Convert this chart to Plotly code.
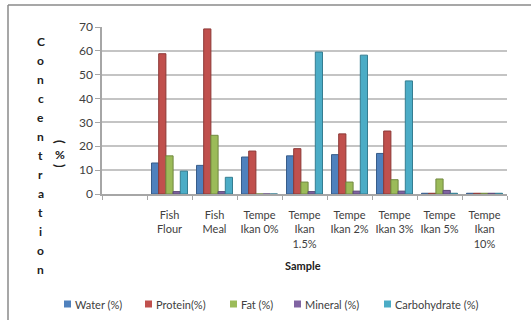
import plotly.graph_objects as go

# Sample categories (the first slot on the axis is left empty)
samples = ["", "Fish<br>Flour", "Fish<br>Meal", "Tempe<br>Ikan 0%", "Tempe<br>Ikan<br>1.5%",
           "Tempe<br>Ikan 2%", "Tempe<br>Ikan 3%", "Tempe<br>Ikan 5%", "Tempe<br>Ikan<br>10%"]

water = [None, 13.0, 12.0, 15.5, 16.0, 16.5, 17.0, 0.3, 0.3]
protein = [None, 58.8, 69.2, 18.0, 19.0, 25.2, 26.4, 0.3, 0.3]
fat = [None, 16.0, 24.6, 0.0, 5.0, 5.0, 6.0, 6.3, 0.3]
mineral = [None, 1.0, 1.0, 0.0, 1.0, 1.2, 1.2, 1.5, 0.3]
carbohydrate = [None, 9.6, 7.0, 0.0, 59.5, 58.2, 47.4, 0.3, 0.3]

y_ticks = [0, 10, 20, 30, 40, 50, 60, 70]

series = [
    ("Water (%)", water, "#4F81BD", "#385D8A"),
    ("Protein(%)", protein, "#C0504D", "#8C3836"),
    ("Fat (%)", fat, "#9BBB59", "#71893F"),
    ("Mineral (%)", mineral, "#8064A2", "#5C4776"),
    ("Carbohydrate (%)", carbohydrate, "#4BACC6", "#357D91"),
]
# horizontal start of each legend entry (px)
legend_x = [64, 145, 230, 294, 384]

W, H = 531, 320
L, R, T, B = 102, 24, 27, 126
PW, PH = W - L - R, H - T - B


def px_x(x):
    return (x - L) / PW


def px_y(y):
    return (H - B - y) / PH


xs = list(range(len(samples)))
fig = go.Figure()
for name, vals, col, edge in series:
    fig.add_trace(go.Bar(
        x=xs, y=vals, name=name,
        marker=dict(color=col, line=dict(color=edge, width=1)),
    ))

font_family = "Lato, 'Open Sans', sans-serif"
text_col = "#404040"
title_col = "#202020"

annotations = []
shapes = []

# vertically stacked axis title
for i, ch in enumerate("Concentration"):
    annotations.append(dict(
        x=px_x(41), y=px_y(41 + i * 19.0), xref="paper", yref="paper",
        text=f"<b>{ch}</b>", showarrow=False,
        font=dict(family=font_family, size=12, color=title_col),
        xanchor="center", yanchor="middle",
    ))
annotations += [
    dict(x=px_x(60), y=px_y(142), xref="paper", yref="paper", text="<b>(</b>",
         textangle=90, showarrow=False, font=dict(family=font_family, size=13, color=title_col),
         xanchor="center", yanchor="middle"),
    dict(x=px_x(60), y=px_y(154), xref="paper", yref="paper", text="<b>%</b>",
         showarrow=False, font=dict(family=font_family, size=12, color=title_col),
         xanchor="center", yanchor="middle"),
    dict(x=px_x(60), y=px_y(166), xref="paper", yref="paper", text="<b>)</b>",
         textangle=90, showarrow=False, font=dict(family=font_family, size=13, color=title_col),
         xanchor="center", yanchor="middle"),
    dict(x=px_x(303), y=px_y(265), xref="paper", yref="paper", text="<b>Sample</b>",
         showarrow=False, font=dict(family=font_family, size=11, color=title_col),
         xanchor="center", yanchor="middle"),
]

# legend: colour square followed by series name
for (name, _, col, edge), lx in zip(series, legend_x):
    shapes.append(dict(type="rect", xref="paper", yref="paper",
                       x0=px_x(lx), x1=px_x(lx + 7), y0=px_y(300.5), y1=px_y(307.5),
                       fillcolor=col, line=dict(color=col, width=0)))
    annotations.append(dict(x=px_x(lx + 9), y=px_y(304), xref="paper", yref="paper",
                            text=name, showarrow=False, xanchor="left", yanchor="middle",
                            font=dict(family=font_family, size=11, color=text_col)))

# outer chart frame (left and top edges)
shapes += [
    dict(type="line", xref="paper", yref="paper", x0=px_x(8), x1=px_x(8),
         y0=px_y(5), y1=px_y(330), line=dict(color="#8A8A8A", width=1.5)),
    dict(type="line", xref="paper", yref="paper", x0=px_x(8), x1=px_x(540),
         y0=px_y(5), y1=px_y(5), line=dict(color="#8A8A8A", width=1.5)),
]

fig.update_layout(
    width=W, height=H,
    margin=dict(l=L, r=R, t=T, b=B, autoexpand=False),
    paper_bgcolor="white", plot_bgcolor="white",
    barmode="group", bargap=0.2, bargroupgap=0.0,
    font=dict(family=font_family, size=11, color=text_col),
    showlegend=False,
    annotations=annotations,
    shapes=shapes,
)

fig.update_xaxes(
    range=[-0.5, len(samples) - 0.5],
    tickmode="array", tickvals=xs, ticktext=samples, ticks="",
    tickfont=dict(family=font_family, size=11, color=text_col),
    ticklabelstandoff=10,
    showgrid=False, showline=True, linecolor="#A6A6A6", linewidth=1.5,
    minor=dict(tickmode="linear", tick0=0.5, dtick=1, ticks="outside", ticklen=4,
               tickcolor="#A6A6A6", showgrid=False),
    automargin=False, fixedrange=True,
)
fig.update_yaxes(
    range=[0, 70], tickmode="array", tickvals=y_ticks,
    ticks="outside", ticklen=5, tickcolor="#A6A6A6",
    tickfont=dict(family=font_family, size=12, color=text_col),
    showgrid=True, gridcolor="#C4C4C4", gridwidth=1.5,
    showline=True, linecolor="#A6A6A6", linewidth=1.5,
    zeroline=False, automargin=False, fixedrange=True,
)

fig.write_html("out.html")
